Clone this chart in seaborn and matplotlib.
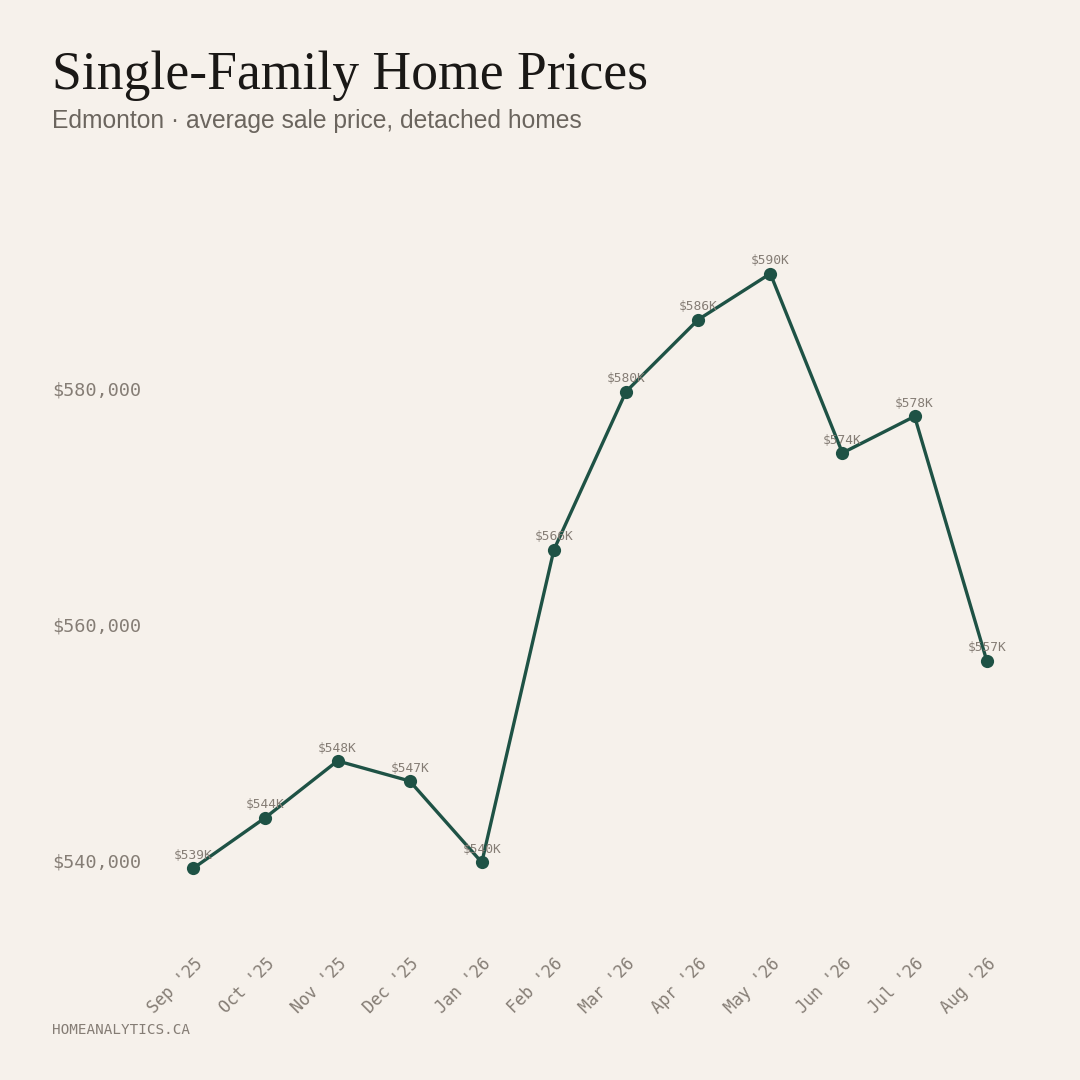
import matplotlib
matplotlib.use("Agg")
import matplotlib.pyplot as plt
import seaborn as sns
import pandas as pd

# data
months = ["Sep '25", "Oct '25", "Nov '25", "Dec '25", "Jan '26", "Feb '26",
          "Mar '26", "Apr '26", "May '26", "Jun '26", "Jul '26", "Aug '26"]
prices = [539300, 543600, 548400, 546700, 539800, 566300,
          579700, 585800, 589700, 574500, 577600, 556900]
price_labels = ["$539K", "$544K", "$548K", "$547K", "$540K", "$566K",
                "$580K", "$586K", "$590K", "$574K", "$578K", "$557K"]
y_ticks = [540000, 560000, 580000]

bg = "#F6F1EB"
line_color = "#1E5245"
muted = "#857D75"

sns.set_theme(style="white")
plt.rcParams["font.family"] = ["DejaVu Sans Mono"]

df = pd.DataFrame({"idx": range(len(months)), "price": prices})

fig = plt.figure(figsize=(10.8, 10.8), dpi=100, facecolor=bg)
ax = fig.add_axes([150 / 1080, 1 - 930 / 1080, 880 / 1080, 680 / 1080])
ax.set_facecolor(bg)

sns.lineplot(data=df, x="idx", y="price", ax=ax, color=line_color,
             linewidth=2.4, marker="o", markersize=9.5, markeredgewidth=0)

for i, (p, lab) in enumerate(zip(prices, price_labels)):
    ax.annotate(lab, (i, p), xytext=(0, 4.5), textcoords="offset points",
                ha="center", va="bottom", fontsize=9.3, color=muted)

ax.set_xlim(-0.6, 11.6)
ax.set_ylim(534070, 591700)
ax.set_xticks(range(len(months)))
ax.set_xticklabels(months, rotation=45, ha="right", rotation_mode="anchor",
                   fontsize=12, color=muted)
ax.set_yticks(y_ticks)
ax.set_yticklabels([f"${v:,.0f}" for v in y_ticks], fontsize=13.3, color=muted,
                   ha="left")
# label left edge sits at x=52px, axes starts at 150px
ax.tick_params(axis="y", length=0, pad=98 * 0.72)
ax.tick_params(axis="x", length=0, pad=18)
ax.set_xlabel("")
ax.set_ylabel("")
for s in ax.spines.values():
    s.set_visible(False)
ax.grid(False)

fig.text(52 / 1080, 1 - 76 / 1080, "Single-Family Home Prices",
         family="Liberation Serif", fontsize=38.6, color="#1A1816",
         va="center", ha="left")
fig.text(52 / 1080, 1 - 121 / 1080, "Edmonton · average sale price, detached homes",
         family="Liberation Sans", fontsize=17.7, color="#6B655E",
         va="center", ha="left")
fig.text(52 / 1080, 1 - 1030 / 1080, "HOMEANALYTICS.CA",
         family="DejaVu Sans Mono", fontsize=10.3, color=muted,
         va="center", ha="left")

fig.savefig("out.png", dpi=100, facecolor=bg)
